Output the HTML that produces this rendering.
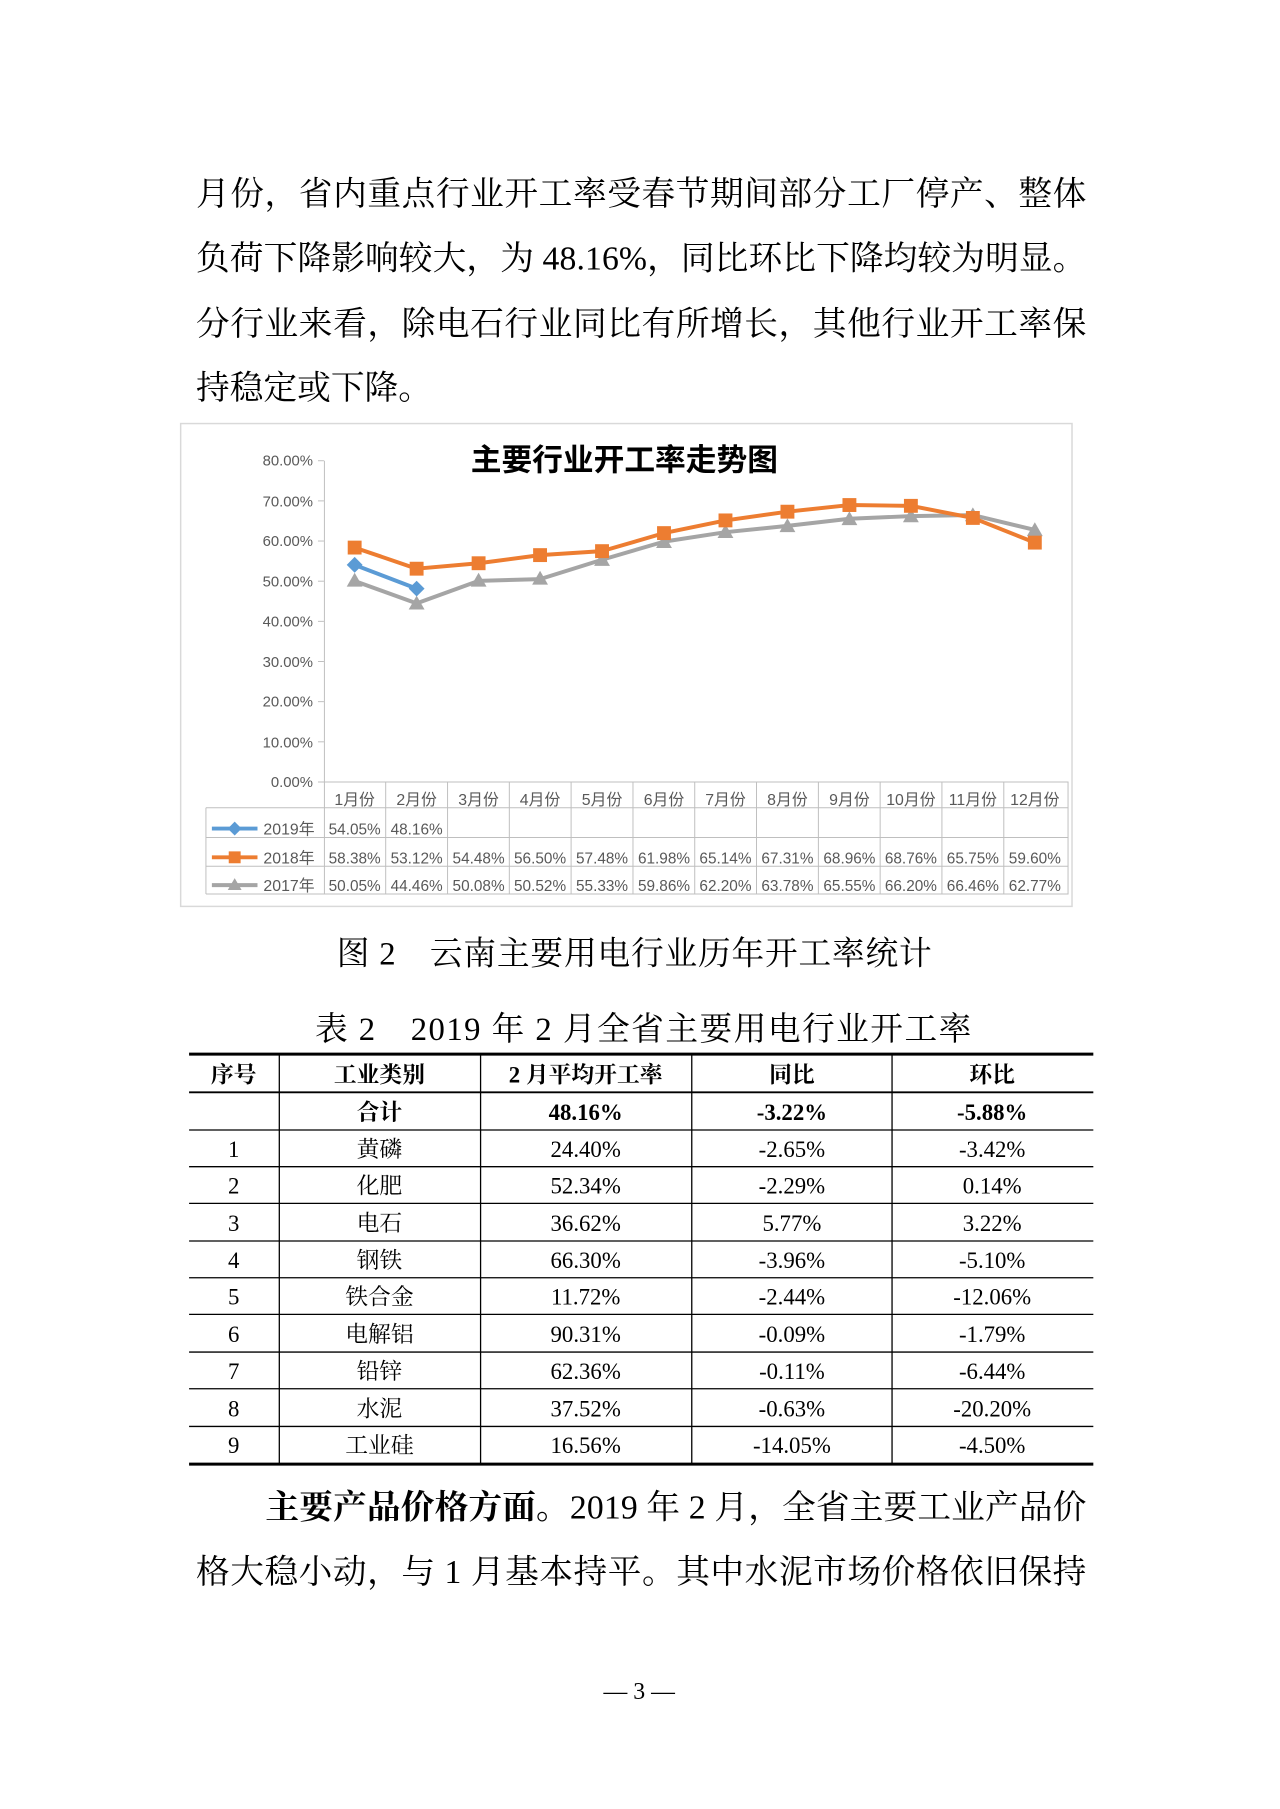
<!DOCTYPE html>
<html><head><meta charset="utf-8"><style>
html,body{margin:0;padding:0;background:#fff}
svg{display:block}
.s{font-family:"Liberation Serif","Noto Serif CJK SC",serif;fill:#000}
.c{font-family:"Liberation Sans","Noto Sans CJK SC",sans-serif;fill:#595959}
</style></head><body>
<svg width="1280" height="1809" viewBox="0 0 1280 1809" xmlns="http://www.w3.org/2000/svg">
<g transform="translate(198 195) scale(0.9915) translate(-198 -195)">
<g class="s" font-size="34">
<text x="196" y="205" textLength="898" lengthAdjust="spacing">月份，省内重点行业开工率受春节期间部分工厂停产、整体</text>
<text x="196" y="270" textLength="898" lengthAdjust="spacing">负荷下降影响较大，为 48.16%，同比环比下降均较为明显。</text>
<text x="196" y="336" textLength="898" lengthAdjust="spacing">分行业来看，除电石行业同比有所增长，其他行业开工率保</text>
<text x="196" y="401">持稳定或下降。</text>
</g>
<rect x="180.5" y="425.5" width="899" height="487" fill="#fff" stroke="#d9d9d9" stroke-width="1.5"/>
<text x="628" y="473" text-anchor="middle" font-family="Liberation Sans,'Noto Sans CJK SC',sans-serif" font-weight="bold" font-size="31" fill="#000">主要行业开工率走势图</text>
<g class="c" font-size="15" text-anchor="end">
<text x="314" y="468">80.00%</text><text x="314" y="509">70.00%</text><text x="314" y="549">60.00%</text><text x="314" y="590">50.00%</text><text x="314" y="630">40.00%</text><text x="314" y="671">30.00%</text><text x="314" y="711">20.00%</text><text x="314" y="752">10.00%</text><text x="314" y="792">0.00%</text>
</g>
<g stroke="#bfbfbf" stroke-width="1">
<line x1="325.5" y1="463" x2="325.5" y2="900"/>
<line x1="319" y1="463" x2="325" y2="463"/><line x1="319" y1="503.5" x2="325" y2="503.5"/><line x1="319" y1="544" x2="325" y2="544"/><line x1="319" y1="584.5" x2="325" y2="584.5"/><line x1="319" y1="625" x2="325" y2="625"/><line x1="319" y1="665.5" x2="325" y2="665.5"/><line x1="319" y1="706" x2="325" y2="706"/><line x1="319" y1="746.5" x2="325" y2="746.5"/>
<line x1="319" y1="787" x2="1076" y2="787"/>
<line x1="206" y1="813" x2="1076" y2="813"/><line x1="206" y1="843" x2="1076" y2="843"/><line x1="206" y1="872" x2="1076" y2="872"/><line x1="206" y1="900" x2="1076" y2="900"/>
<line x1="206" y1="813" x2="206" y2="900"/>
<line x1="387.3" y1="787" x2="387.3" y2="900"/><line x1="449.7" y1="787" x2="449.7" y2="900"/><line x1="512" y1="787" x2="512" y2="900"/><line x1="574.3" y1="787" x2="574.3" y2="900"/><line x1="636.7" y1="787" x2="636.7" y2="900"/><line x1="699" y1="787" x2="699" y2="900"/><line x1="761.3" y1="787" x2="761.3" y2="900"/><line x1="823.7" y1="787" x2="823.7" y2="900"/><line x1="886" y1="787" x2="886" y2="900"/><line x1="948.3" y1="787" x2="948.3" y2="900"/><line x1="1010.7" y1="787" x2="1010.7" y2="900"/><line x1="1075.5" y1="787" x2="1075.5" y2="900"/>
</g>
<g class="c" font-size="16" text-anchor="middle">
<text x="356" y="810">1月份</text><text x="418.5" y="810">2月份</text><text x="481" y="810">3月份</text><text x="543" y="810">4月份</text><text x="605.5" y="810">5月份</text><text x="668" y="810">6月份</text><text x="730" y="810">7月份</text><text x="792.5" y="810">8月份</text><text x="855" y="810">9月份</text><text x="917" y="810">10月份</text><text x="979.5" y="810">11月份</text><text x="1042" y="810">12月份</text>
</g>
<g class="c" font-size="15.5" text-anchor="middle">
<text x="356" y="840">54.05%</text><text x="418.5" y="840">48.16%</text>
<text x="356" y="869">58.38%</text><text x="418.5" y="869">53.12%</text><text x="481" y="869">54.48%</text><text x="543" y="869">56.50%</text><text x="605.5" y="869">57.48%</text><text x="668" y="869">61.98%</text><text x="730" y="869">65.14%</text><text x="792.5" y="869">67.31%</text><text x="855" y="869">68.96%</text><text x="917" y="869">68.76%</text><text x="979.5" y="869">65.75%</text><text x="1042" y="869">59.60%</text>
<text x="356" y="897">50.05%</text><text x="418.5" y="897">44.46%</text><text x="481" y="897">50.08%</text><text x="543" y="897">50.52%</text><text x="605.5" y="897">55.33%</text><text x="668" y="897">59.86%</text><text x="730" y="897">62.20%</text><text x="792.5" y="897">63.78%</text><text x="855" y="897">65.55%</text><text x="917" y="897">66.20%</text><text x="979.5" y="897">66.46%</text><text x="1042" y="897">62.77%</text>
</g>
<g class="c" font-size="16">
<text x="264" y="840">2019年</text><text x="264" y="869">2018年</text><text x="264" y="897">2017年</text>
</g>
<line x1="212" y1="834" x2="258" y2="834" stroke="#5b9bd5" stroke-width="4"/><polygon points="235,827 242,834 235,841 228,834" fill="#5b9bd5"/>
<line x1="212" y1="863" x2="258" y2="863" stroke="#ed7d31" stroke-width="4"/><rect x="229" y="857" width="12" height="12" fill="#ed7d31"/>
<line x1="212" y1="891" x2="258" y2="891" stroke="#a5a5a5" stroke-width="4"/><polygon points="235,884 242,896 228,896" fill="#a5a5a5"/>
<polyline fill="none" stroke="#a5a5a5" stroke-width="4" stroke-linejoin="round" points="356,584.3 418.5,606.9 481,584.2 543,582.4 605.5,562.9 668,544.6 730,535.1 792.5,528.7 855,521.5 917,518.9 979.5,517.8 1042,532.8"/>
<g fill="#a5a5a5">
<polygon points="356,576 364,590 348,590"/><polygon points="418.5,599 426.5,613 410.5,613"/><polygon points="481,576 489,590 473,590"/><polygon points="543,574 551,588 535,588"/><polygon points="605.5,555 613.5,569 597.5,569"/><polygon points="668,537 676,551 660,551"/><polygon points="730,527 738,541 722,541"/><polygon points="792.5,521 800.5,535 784.5,535"/><polygon points="855,514 863,528 847,528"/><polygon points="917,511 925,525 909,525"/><polygon points="979.5,510 987.5,524 971.5,524"/><polygon points="1042,525 1050,539 1034,539"/>
</g>
<polyline fill="none" stroke="#ed7d31" stroke-width="4" stroke-linejoin="round" points="356,550.6 418.5,571.9 481,566.4 543,558.2 605.5,554.2 668,536 730,523.2 792.5,514.4 855,507.7 917,508.5 979.5,520.7 1042,545.6"/>
<g fill="#ed7d31">
<rect x="349" y="543.6" width="14" height="14"/><rect x="411.5" y="564.9" width="14" height="14"/><rect x="474" y="559.4" width="14" height="14"/><rect x="536" y="551.2" width="14" height="14"/><rect x="598.5" y="547.2" width="14" height="14"/><rect x="661" y="529" width="14" height="14"/><rect x="723" y="516.2" width="14" height="14"/><rect x="785.5" y="507.4" width="14" height="14"/><rect x="848" y="500.7" width="14" height="14"/><rect x="910" y="501.5" width="14" height="14"/><rect x="972.5" y="513.7" width="14" height="14"/><rect x="1035" y="538.6" width="14" height="14"/>
</g>
<polyline fill="none" stroke="#5b9bd5" stroke-width="4" points="356,568.1 418.5,592"/>
<g fill="#5b9bd5"><polygon points="356,560 364,568 356,576 348,568"/><polygon points="418.5,584 426.5,592 418.5,600 410.5,592"/></g>
<g class="s" font-size="33">
<text x="338" y="971" textLength="600" lengthAdjust="spacing">图 2　云南主要用电行业历年开工率统计</text>
<text x="316" y="1047" textLength="662" lengthAdjust="spacing">表 2　2019 年 2 月全省主要用电行业开工率</text>
</g>
<g stroke="#000">
<line x1="189" y1="1061.5" x2="1101" y2="1061.5" stroke-width="3"/>
<line x1="189" y1="1100" x2="1101" y2="1100" stroke-width="2"/>
<line x1="189" y1="1475" x2="1101" y2="1475" stroke-width="3"/>
<g stroke-width="1.3">
<line x1="189" y1="1138" x2="1101" y2="1138"/><line x1="189" y1="1175" x2="1101" y2="1175"/><line x1="189" y1="1212" x2="1101" y2="1212"/><line x1="189" y1="1250" x2="1101" y2="1250"/><line x1="189" y1="1287" x2="1101" y2="1287"/><line x1="189" y1="1324" x2="1101" y2="1324"/><line x1="189" y1="1362" x2="1101" y2="1362"/><line x1="189" y1="1399" x2="1101" y2="1399"/><line x1="189" y1="1437" x2="1101" y2="1437"/>
<line x1="280" y1="1061" x2="280" y2="1475"/><line x1="483" y1="1061" x2="483" y2="1475"/><line x1="696" y1="1061" x2="696" y2="1475"/><line x1="898" y1="1061" x2="898" y2="1475"/>
</g></g>
<g class="s" font-size="23" text-anchor="middle">
<g font-weight="bold"><text x="234" y="1090">序号</text><text x="381" y="1090">工业类别</text><text x="589" y="1090">2 月平均开工率</text><text x="797" y="1090">同比</text><text x="999" y="1090">环比</text>
<text x="381" y="1128">合计</text><text x="589" y="1128">48.16%</text><text x="797" y="1128">-3.22%</text><text x="999" y="1128">-5.88%</text></g>
<text x="234" y="1165">1</text><text x="381" y="1165">黄磷</text><text x="589" y="1165">24.40%</text><text x="797" y="1165">-2.65%</text><text x="999" y="1165">-3.42%</text>
<text x="234" y="1202">2</text><text x="381" y="1202">化肥</text><text x="589" y="1202">52.34%</text><text x="797" y="1202">-2.29%</text><text x="999" y="1202">0.14%</text>
<text x="234" y="1240">3</text><text x="381" y="1240">电石</text><text x="589" y="1240">36.62%</text><text x="797" y="1240">5.77%</text><text x="999" y="1240">3.22%</text>
<text x="234" y="1277">4</text><text x="381" y="1277">钢铁</text><text x="589" y="1277">66.30%</text><text x="797" y="1277">-3.96%</text><text x="999" y="1277">-5.10%</text>
<text x="234" y="1314">5</text><text x="381" y="1314">铁合金</text><text x="589" y="1314">11.72%</text><text x="797" y="1314">-2.44%</text><text x="999" y="1314">-12.06%</text>
<text x="234" y="1352">6</text><text x="381" y="1352">电解铝</text><text x="589" y="1352">90.31%</text><text x="797" y="1352">-0.09%</text><text x="999" y="1352">-1.79%</text>
<text x="234" y="1389">7</text><text x="381" y="1389">铅锌</text><text x="589" y="1389">62.36%</text><text x="797" y="1389">-0.11%</text><text x="999" y="1389">-6.44%</text>
<text x="234" y="1427">8</text><text x="381" y="1427">水泥</text><text x="589" y="1427">37.52%</text><text x="797" y="1427">-0.63%</text><text x="999" y="1427">-20.20%</text>
<text x="234" y="1464">9</text><text x="381" y="1464">工业硅</text><text x="589" y="1464">16.56%</text><text x="797" y="1464">-14.05%</text><text x="999" y="1464">-4.50%</text>
</g>
<g class="s" font-size="34">
<text x="266" y="1530" textLength="828" lengthAdjust="spacing"><tspan font-weight="bold">主要产品价格方面。</tspan>2019 年 2 月，全省主要工业产品价</text>
<text x="196" y="1595" textLength="898" lengthAdjust="spacing">格大稳小动，与 1 月基本持平。其中水泥市场价格依旧保持</text>
</g>
<text class="s" x="643" y="1712" font-size="24" text-anchor="middle">— 3 —</text>
</g>
</svg>
</body></html>
